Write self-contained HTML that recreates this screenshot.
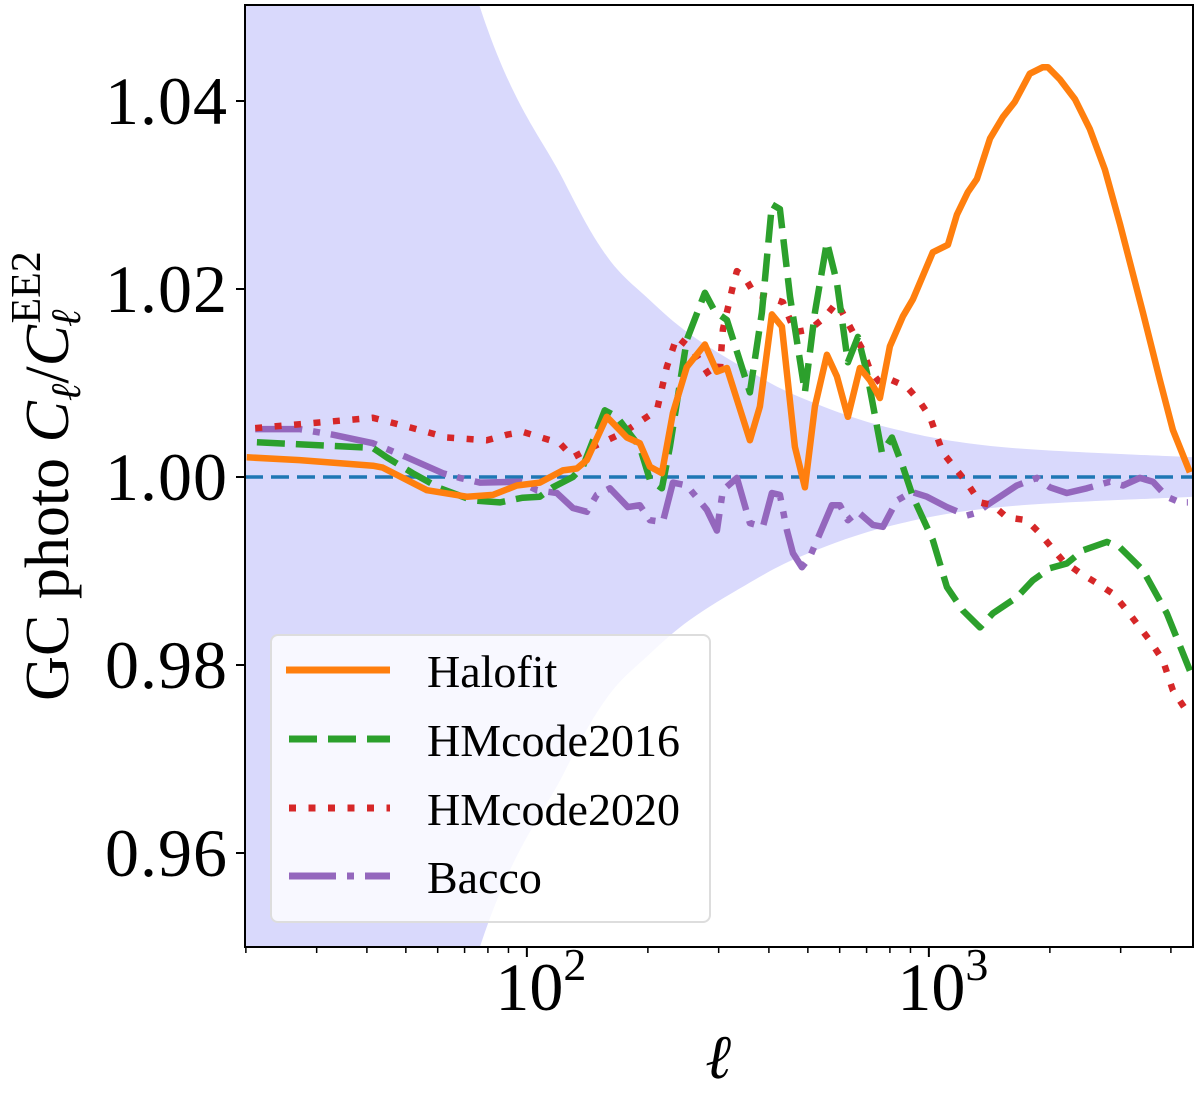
<!DOCTYPE html>
<html><head><meta charset="utf-8">
<style>
html,body{margin:0;padding:0;background:#fff;overflow:hidden;}
svg{display:block;font-family:"Liberation Serif","DejaVu Serif",serif;}
</style></head>
<body>
<svg id="chart" width="1200" height="1095" viewBox="0 0 1200 1095" xmlns="http://www.w3.org/2000/svg">
<defs><clipPath id="plotclip"><rect x="245" y="5" width="948" height="942"/></clipPath></defs>
<g id="bandLayer" clip-path="url(#plotclip)"></g>
<g id="lineLayer" clip-path="url(#plotclip)"></g>
<rect x="245" y="5" width="948" height="942" fill="none" stroke="#000" stroke-width="2"/>
<g id="axisLayer"></g>
<text transform="translate(68,476) rotate(-90)" text-anchor="middle" font-size="62">GC photo <tspan font-style="italic">C</tspan><tspan font-style="italic" font-size="42" dy="12">ℓ</tspan><tspan dy="-12">/</tspan><tspan font-style="italic">C</tspan><tspan font-style="italic" font-size="42" dy="12" dx="-2">ℓ</tspan><tspan font-size="42" dy="-40" dx="-14">EE2</tspan></text>
<text x="718" y="1078" text-anchor="middle" font-size="62" font-style="italic">ℓ</text>
<g id="legend">
<rect x="271" y="635" width="439" height="287" rx="7" fill="rgba(255,255,255,0.8)" stroke="#ddd" stroke-width="2"/>
<g><line x1="286" y1="670" x2="390" y2="670" stroke="#ff7f0e" stroke-width="7"/><text x="427" y="687" font-size="46">Halofit</text></g>
<g><line x1="289" y1="739" x2="390" y2="739" stroke="#2ca02c" stroke-width="7" stroke-dasharray="28,11"/><text x="427" y="756" font-size="46">HMcode2016</text></g>
<g><line x1="289" y1="808" x2="390" y2="808" stroke="#d62728" stroke-width="7" stroke-dasharray="7,12.5"/><text x="427" y="825" font-size="46">HMcode2020</text></g>
<g><line x1="289" y1="876" x2="390" y2="876" stroke="#9467bd" stroke-width="7" stroke-dasharray="47,11,7,11"/><text x="427" y="893" font-size="46">Bacco</text></g>
</g>
</svg>
<script>
// ---- data ----
const yTicks = [0.96, 0.98, 1.00, 1.02, 1.04];
const yTickLabels = ["0.96", "0.98", "1.00", "1.02", "1.04"];
const xMajorTicks = [100, 1000];
const xMajorExp = ["2", "3"];
const xMinorTicks = [20,30,40,50,60,70,80,90,200,300,400,500,600,700,800,900,2000,3000,4000];

const bandEll = [19.9, 40, 76.4, 122.9, 158.1, 200, 254.4, 350, 477.6, 786.3, 1502, 4540];
const bandHalfWidth = [0.19, 0.095, 0.05, 0.0317, 0.0235, 0.019, 0.0152, 0.0115, 0.0085, 0.0053, 0.0032, 0.0021];

const halofitEll = [20.1,27.2,41.4,43.8,56.4,70.9,82.3,94.4,107.7,122.9,133.2,141.0,158.1,177.4,191.0,202.3,216.7,230.8,250.0,277.3,297.0,314.5,358.7,379.9,407.0,431.0,464.2,491.6,520.5,557.7,590.6,628.9,673.7,713.4,755.4,799.8,861.6,912.5,1023,1115,1174,1250,1317,1419,1528,1636,1783,1921,1977,2118,2308,2515,2741,2988,3407,3756,4046,4461];
const halofitVal = [1.0021,1.0018,1.0012,1.0010,0.9986,0.9979,0.9981,0.9991,0.9994,1.0007,1.0009,1.0018,1.0064,1.0042,1.0036,1.0011,1.0004,1.0068,1.0117,1.0141,1.0112,1.0116,1.0039,1.0075,1.0173,1.0160,1.0032,0.9989,1.0075,1.0130,1.0107,1.0064,1.0116,1.0103,1.0084,1.0139,1.0171,1.0189,1.0239,1.0247,1.0279,1.0303,1.0317,1.0360,1.0383,1.0399,1.0429,1.0436,1.0436,1.0423,1.0402,1.0370,1.0327,1.0269,1.0175,1.0103,1.0050,1.0005];

const hm2016Ell = [21.3,41.4,44.8,52.0,60.8,73.4,85.7,97.7,107.7,116.0,130.2,137.8,156.3,167.4,177.4,191.0,202.3,216.7,226.9,250.0,277.3,293.6,314.5,358.7,384.3,407.0,426.1,451.3,491.6,520.5,557.7,590.6,628.9,666.0,701.2,764.1,809.1,861.6,912.5,1023,1109,1215,1340,1443,1655,1814,2000,2204,2416,2773,2988,3407,3908,4461];
const hm2016Val = [1.0037,1.0031,1.0021,1.0004,0.9988,0.9975,0.9973,0.9978,0.9979,0.9989,1.0000,1.0011,1.0071,1.0064,1.0050,1.0032,0.9997,0.9988,1.0032,1.0146,1.0196,1.0176,1.0167,1.0090,1.0175,1.0290,1.0285,1.0192,1.0090,1.0175,1.0250,1.0207,1.0122,1.0149,1.0111,1.0026,1.0042,1.0011,0.9979,0.9933,0.9883,0.9858,0.9840,0.9855,0.9872,0.9890,0.9903,0.9908,0.9922,0.9931,0.9925,0.9901,0.9855,0.9794];

const hm2020Ell = [21.1,41.4,52.0,63.2,79.5,89.2,97.7,120.8,130.2,145.9,173.4,210.6,222.9,236.1,258.8,285.3,302.1,307.3,325.4,333.0,348.6,369.2,395.5,433.5,464.2,505.8,551.3,590.6,647.2,685.3,713.4,755.4,809.1,881.6,950.0,1006,1083,1174,1243,1340,1443,1563,1753,1889,2154,2375,2618,2870,3110,3292,3547,3821,4046,4410];
const hm2020Val = [1.0052,1.0063,1.0052,1.0042,1.0039,1.0045,1.0048,1.0036,1.0021,1.0032,1.0047,1.0071,1.0117,1.0149,1.0135,1.0107,1.0114,1.0157,1.0203,1.0219,1.0212,1.0194,1.0192,1.0186,1.0154,1.0157,1.0170,1.0186,1.0154,1.0135,1.0114,1.0100,1.0103,1.0096,1.0080,1.0064,1.0026,1.0007,0.9994,0.9973,0.9970,0.9957,0.9954,0.9940,0.9911,0.9898,0.9887,0.9876,0.9858,0.9844,0.9826,0.9805,0.9773,0.9749];

const baccoEll = [21.1,27.2,32.9,41.4,50.3,61.8,68.1,76.4,96.1,105.9,118.7,130.2,141.0,149.3,160.9,178.4,191.0,202.3,217.9,230.8,250.0,280.4,297.0,307.3,333.0,358.7,386.5,407.0,426.1,443.6,459.1,483.2,505.8,535.7,573.9,600.9,628.9,666.0,725.7,768.5,832.6,907.3,988.6,1109,1243,1317,1395,1502,1655,1857,2000,2204,2472,2821,3040,3349,3608,3908,4212,4410];
const baccoVal = [1.0051,1.0051,1.0045,1.0036,1.0021,1.0004,0.9999,0.9994,0.9995,0.9986,0.9983,0.9967,0.9963,0.9981,0.9988,0.9968,0.9970,0.9954,0.9952,0.9994,0.9991,0.9965,0.9943,0.9986,0.9999,0.9951,0.9947,0.9983,0.9981,0.9943,0.9919,0.9904,0.9915,0.9940,0.9970,0.9970,0.9954,0.9963,0.9949,0.9947,0.9975,0.9984,0.9979,0.9968,0.9959,0.9962,0.9970,0.9979,0.9991,0.9999,0.9989,0.9983,0.9988,0.9995,0.9991,0.9999,0.9995,0.9979,0.9973,0.9973];

const refValue = [1.0];

// ---- axes ----
const X0 = 245, X1 = 1193, Y0 = 947, Y1 = 7;
const xMin = 19.9, xMax = 4540, yMin = 0.95, yMax = 1.05;
function sx(l){ return X0 + (Math.log10(l) - Math.log10(xMin)) / (Math.log10(xMax) - Math.log10(xMin)) * (X1 - X0); }
function sy(v){ return Y0 - (v - yMin) / (yMax - yMin) * (Y0 - Y1); }

const NS = "http://www.w3.org/2000/svg";
function mk(tag, attrs, parent){
  const el = document.createElementNS(NS, tag);
  for (const k in attrs) el.setAttribute(k, attrs[k]);
  parent.appendChild(el);
  return el;
}
function smooth(pts, start){
  let d = (start ? "M" : "L") + pts[0][0].toFixed(1) + "," + pts[0][1].toFixed(1);
  for (let i = 0; i < pts.length - 1; i++){
    const p0 = pts[Math.max(0,i-1)], p1 = pts[i], p2 = pts[i+1], p3 = pts[Math.min(pts.length-1,i+2)];
    const c1x = p1[0] + (p2[0]-p0[0])/6, c1y = p1[1] + (p2[1]-p0[1])/6;
    const c2x = p2[0] - (p3[0]-p1[0])/6, c2y = p2[1] - (p3[1]-p1[1])/6;
    d += "C" + c1x.toFixed(1) + "," + c1y.toFixed(1) + " " + c2x.toFixed(1) + "," + c2y.toFixed(1) + " " + p2[0].toFixed(1) + "," + p2[1].toFixed(1);
  }
  return d;
}

// band
const bandLayer = document.getElementById('bandLayer');
const upper = bandEll.map((l,i)=>[sx(l), sy(1 + bandHalfWidth[i])]);
const lower = bandEll.map((l,i)=>[sx(l), sy(1 - bandHalfWidth[i])]).reverse();
const bd = smooth(upper, true) + smooth(lower, false) + "Z";
const band = mk('path', {d: bd, fill: '#d9d9fc', stroke: 'none'}, bandLayer);



// reference line
const lineLayer = document.getElementById('lineLayer');
const ref = mk('line', {x1: X0, x2: X1, y1: sy(refValue[0]), y2: sy(refValue[0]), stroke: '#1f77b4', 'stroke-width': 3.5, 'stroke-dasharray': '18,8'}, lineLayer);



function series(ells, vals, color, dash, name){
  let d = "";
  ells.forEach((l,i)=>{ d += (i? "L":"M") + sx(l).toFixed(1) + "," + sy(vals[i]).toFixed(1); });
  const p = mk('path', {d: d, fill: 'none', stroke: color, 'stroke-width': 6.5, 'stroke-linejoin': 'round', 'stroke-dasharray': dash}, lineLayer);
  
  
}
series(baccoEll, baccoVal, '#9467bd', '47,11,7,11', 'bacco-line');
series(hm2020Ell, hm2020Val, '#d62728', '7,12.5', 'hmcode2020-line');
series(hm2016Ell, hm2016Val, '#2ca02c', '28,11', 'hmcode2016-line');
series(halofitEll, halofitVal, '#ff7f0e', 'none', 'halofit-line');

// ticks
const axisLayer = document.getElementById('axisLayer');
yTicks.forEach((v,i)=>{
  const y = sy(v);
  const t = mk('line', {x1: X0 - 9, x2: X0, y1: y, y2: y, stroke: '#000', 'stroke-width': 2}, axisLayer);
  
  
  const tx = mk('text', {x: X0 - 17, y: y + 23, 'text-anchor': 'end', 'font-size': 68, 'letter-spacing': '1'}, axisLayer);
  tx.textContent = yTickLabels[i];
  
  
});
xMinorTicks.forEach(l=>{
  const x = sx(l);
  const t = mk('line', {x1: x, x2: x, y1: Y0, y2: Y0 + 6, stroke: '#000', 'stroke-width': 1.5}, axisLayer);
  
  
});
xMajorTicks.forEach((l,i)=>{
  const x = sx(l);
  const t = mk('line', {x1: x, x2: x, y1: Y0, y2: Y0 + 10, stroke: '#000', 'stroke-width': 2}, axisLayer);
  
  
  const tx = mk('text', {x: x + 14, y: 1010, 'text-anchor': 'middle', 'font-size': 68}, axisLayer);
  
  
  const base = mk('tspan', {}, tx); base.textContent = "10";
  const sup = mk('tspan', {dy: -30, 'font-size': 46}, tx); sup.textContent = xMajorExp[i];
});
</script>
</body></html>
